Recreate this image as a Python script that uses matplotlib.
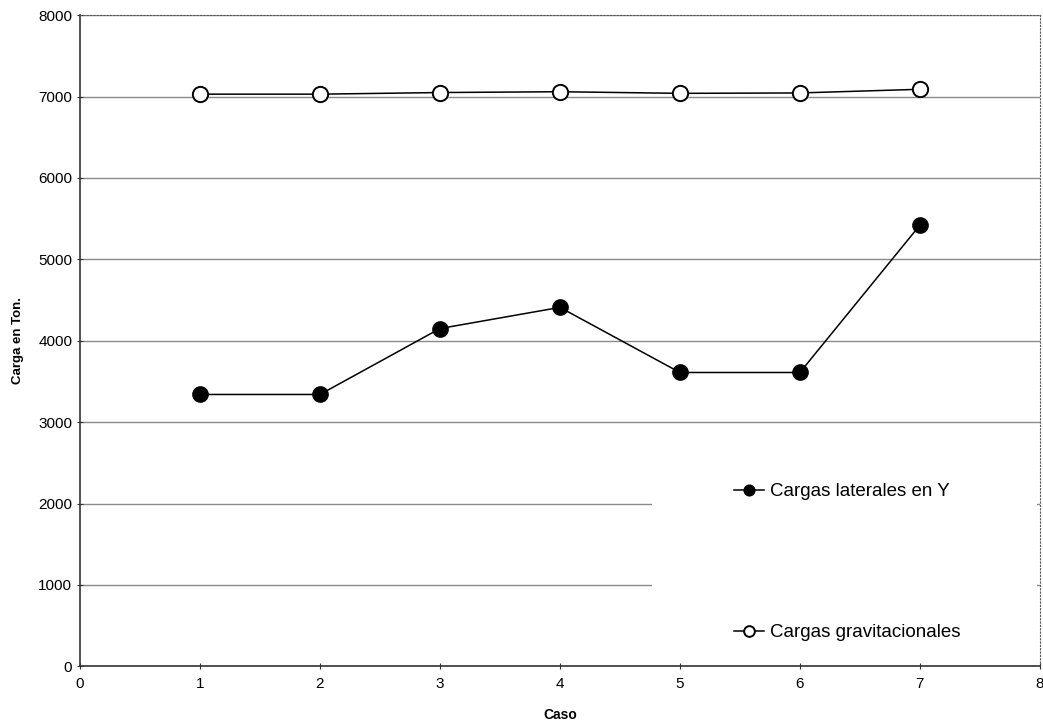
import matplotlib.pyplot as plt
from matplotlib.patches import Rectangle

plt.rcParams['font.family'] = ['Liberation Sans', 'DejaVu Sans']

# Data
caso = [1, 2, 3, 4, 5, 6, 7]
laterales_y = [3340, 3340, 4150, 4410, 3610, 3610, 5420]
gravitacionales = [7030, 7030, 7050, 7060, 7040, 7045, 7090]
y_ticks = [0, 1000, 2000, 3000, 4000, 5000, 6000, 7000, 8000]
x_ticks = [0, 1, 2, 3, 4, 5, 6, 7, 8]

fig = plt.figure(figsize=(10.43, 7.25), dpi=100)
ax = fig.add_axes([0.0767, 0.081, 0.9203, 0.898])

ax.plot(caso, laterales_y, 'k-', lw=1.1, marker='o', ms=11,
        mfc='black', mec='black', label='Cargas laterales en Y', zorder=4)
ax.plot(caso, gravitacionales, 'k-', lw=1.1, marker='o', ms=11,
        mfc='white', mec='black', mew=1.4, label='Cargas gravitacionales', zorder=4)

ax.set_xlim(0, 8)
ax.set_ylim(0, 8000)
ax.set_xticks(x_ticks)
ax.set_yticks(y_ticks)
ax.yaxis.grid(True, color='#8a8a8a', lw=1.0)
ax.set_axisbelow(True)

# white area behind the legend hides the lower gridlines
ax.add_patch(Rectangle((0.596, 0.08), 0.401, 0.26, transform=ax.transAxes,
                       facecolor='white', edgecolor='none', zorder=2))

for s in ['top', 'right']:
    ax.spines[s].set_linestyle((0, (1, 2)))
    ax.spines[s].set_color('#555555')
for s in ['left', 'bottom']:
    ax.spines[s].set_color('#333333')
    ax.spines[s].set_linewidth(1.2)

ax.tick_params(axis='both', labelsize=11, length=4, direction='inout', color='#333333')
ax.tick_params(axis='x', pad=6)
ax.set_xlabel('Caso', fontsize=10, fontweight='bold', labelpad=12)
ax.set_ylabel('Carga en Ton.', fontsize=9.5, fontweight='bold', labelpad=10)

leg = ax.legend(loc='upper left', bbox_to_anchor=(0.664, 0.307), fontsize=13.5,
                frameon=False, labelspacing=6.6, handlelength=1.6,
                handletextpad=0.3, markerscale=0.7)

plt.savefig('out.png', dpi=100)
